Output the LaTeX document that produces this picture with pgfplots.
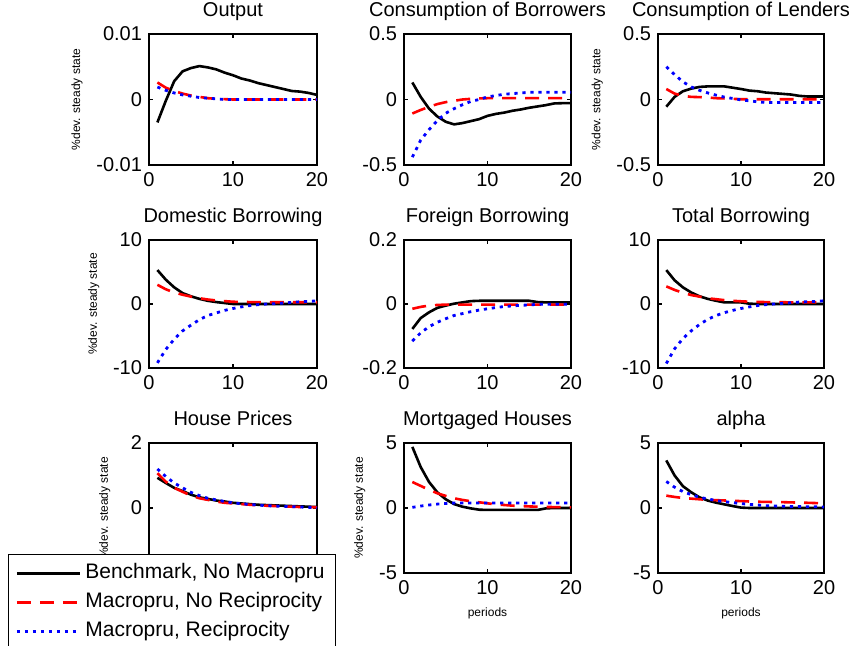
\documentclass[border=0pt]{standalone}
\usepackage{fontspec}
\setmainfont{Liberation Sans}
\usepackage{pgfplots}
\usepackage{pgfplotstable}
\pgfplotsset{compat=1.18}

% columns: period, benchmark, macropru no reciprocity, macropru reciprocity
\pgfplotstableread{
x b r l
1 -0.0035 0.0026 0.0019
2 -0.0002 0.0018 0.0014
3 0.0028 0.0013 0.0010
4 0.0043 0.0009 0.0007
5 0.0048 0.0006 0.0005
6 0.0051 0.0004 0.0003
7 0.0049 0.0002 0.0002
8 0.0046 0.0001 0.0001
9 0.0041 0.00005 0.0
10 0.0037 0 0
11 0.0032 0 0
12 0.0029 0 0
13 0.0025 0 0
14 0.0022 0 0
15 0.0019 0 0
16 0.0016 0 0
17 0.0013 0 0
18 0.0012 0 0
19 0.0010 0 0
20 0.0007 0 0
}\output
\pgfplotstableread{
x b r l
1 0.13 -0.107 -0.44
2 0.02 -0.08 -0.31
3 -0.07 -0.056 -0.23
4 -0.13 -0.035 -0.16
5 -0.17 -0.02 -0.105
6 -0.19 -0.01 -0.07
7 -0.18 0 -0.04
8 -0.165 0.005 -0.015
9 -0.15 0.008 0.0
10 -0.125 0.01 0.02
11 -0.11 0.01 0.03
12 -0.10 0.01 0.04
13 -0.086 0.01 0.045
14 -0.076 0.01 0.05
15 -0.063 0.01 0.055
16 -0.053 0.01 0.055
17 -0.043 0.01 0.055
18 -0.03 0.01 0.055
19 -0.028 0.01 0.055
20 -0.028 0.01 0.055
}\cborr
\pgfplotstableread{
x b r l
1 -0.055 0.08 0.25
2 0.02 0.045 0.19
3 0.063 0.028 0.135
4 0.083 0.02 0.096
5 0.096 0.018 0.07
6 0.1 0.015 0.05
7 0.1 0.01 0.033
8 0.1 0.008 0.018
9 0.09 0.005 0.008
10 0.08 0.002 -0.003
11 0.068 0.002 -0.01
12 0.063 0.002 -0.018
13 0.053 0.002 -0.023
14 0.048 0.002 -0.023
15 0.043 0.002 -0.023
16 0.038 0.002 -0.023
17 0.028 0.002 -0.023
18 0.023 0.002 -0.023
19 0.023 0.002 -0.023
20 0.023 0.002 -0.023
}\clend
\pgfplotstableread{
x b r l
1 5.3 3.0 -9.2
2 3.8 2.3 -7.1
3 2.6 1.8 -5.5
4 1.7 1.45 -4.2
5 1.2 1.15 -3.3
6 0.8 0.9 -2.45
7 0.5 0.7 -1.8
8 0.3 0.55 -1.4
9 0.15 0.45 -1.0
10 0 0.35 -0.7
11 0 0.32 -0.45
12 0 0.3 -0.25
13 0 0.3 -0.1
14 0 0.28 0
15 0 0.28 0.05
16 0 0.28 0.15
17 0 0.28 0.25
18 0 0.28 0.35
19 0 0.28 0.4
20 0 0.28 0.5
}\domb
\pgfplotstableread{
x b r l
1 -0.078 -0.015 -0.116
2 -0.044 -0.009 -0.09
3 -0.026 -0.005 -0.071
4 -0.012 -0.003 -0.057
5 -0.005 -0.002 -0.046
6 0.001 -0.002 -0.036
7 0.005 -0.002 -0.03
8 0.009 -0.002 -0.024
9 0.01 -0.002 -0.019
10 0.01 -0.002 -0.015
11 0.01 -0.002 -0.011
12 0.01 -0.002 -0.008
13 0.01 -0.002 -0.006
14 0.01 -0.002 -0.004
15 0.01 -0.002 -0.003
16 0.006 -0.002 -0.001
17 0.005 -0.002 -0.001
18 0.005 -0.002 -0.001
19 0.005 -0.002 -0.001
20 0.005 -0.002 -0.001
}\forb
\pgfplotstableread{
x b r l
1 5.3 2.75 -9.3
2 3.7 2.2 -7.0
3 2.6 1.75 -5.4
4 1.8 1.4 -4.2
5 1.2 1.15 -3.2
6 0.8 0.9 -2.4
7 0.5 0.75 -1.8
8 0.25 0.6 -1.35
9 0.25 0.5 -1.0
10 0.25 0.42 -0.7
11 0.05 0.36 -0.45
12 0 0.32 -0.25
13 0 0.3 -0.1
14 0 0.28 0
15 0 0.27 0.1
16 0 0.26 0.2
17 0 0.26 0.3
18 0 0.26 0.35
19 0 0.26 0.4
20 0 0.26 0.5
}\totb
\pgfplotstableread{
x b r l
1 0.93 1.07 1.2
2 0.77 0.81 0.97
3 0.62 0.62 0.77
4 0.52 0.5 0.62
5 0.41 0.38 0.48
6 0.33 0.3 0.38
7 0.28 0.25 0.3
8 0.23 0.2 0.25
9 0.2 0.16 0.2
10 0.16 0.14 0.16
11 0.14 0.12 0.13
12 0.12 0.1 0.11
13 0.1 0.08 0.09
14 0.09 0.07 0.07
15 0.08 0.06 0.06
16 0.07 0.05 0.05
17 0.06 0.04 0.04
18 0.05 0.03 0.03
19 0.04 0.03 0.02
20 0.03 0.02 0.01
}\hprice
\pgfplotstableread{
x b r l
1 4.7 2.0 0.05
2 3.15 1.7 0.15
3 2.0 1.4 0.23
4 1.2 1.13 0.3
5 0.67 0.93 0.35
6 0.3 0.75 0.38
7 0.1 0.62 0.38
8 -0.03 0.52 0.38
9 -0.13 0.44 0.38
10 -0.15 0.36 0.38
11 -0.15 0.28 0.38
12 -0.15 0.23 0.38
13 -0.15 0.18 0.38
14 -0.15 0.15 0.38
15 -0.15 0.12 0.38
16 -0.15 0.1 0.38
17 -0.03 0.08 0.38
18 0 0.07 0.38
19 0 0.06 0.38
20 0 0.05 0.38
}\mhouse
\pgfplotstableread{
x b r l
1 3.66 0.95 2.04
2 2.5 0.85 1.6
3 1.68 0.77 1.26
4 1.21 0.72 1.03
5 0.82 0.67 0.82
6 0.57 0.62 0.7
7 0.41 0.6 0.57
8 0.28 0.58 0.49
9 0.15 0.55 0.41
10 0.03 0.53 0.34
11 0 0.5 0.28
12 0 0.48 0.23
13 0 0.47 0.18
14 0 0.46 0.15
15 0 0.45 0.13
16 0 0.43 0.12
17 0 0.42 0.11
18 0 0.4 0.1
19 0 0.38 0.09
20 0 0.36 0.08
}\alphat

\pgfplotsset{
  irf/.style={
    scale only axis, anchor=north west,
    xmin=0, xmax=20, xtick={0,10,20}, xticklabels={0,10,20},
    scaled y ticks=false, scaled x ticks=false,
    tick align=inside, major tick length=2pt,
    axis line style={line width=0.9pt},
    every tick/.style={black, line width=0.6pt},
    tick label style={font=\fontsize{10}{12}\selectfont},
    /pgf/number format/assume math mode=true,
    title style={font=\fontsize{10}{12}\selectfont, text depth=0pt, yshift=-0.8pt},
    ylabel style={font=\fontsize{6}{7}\selectfont},
    xlabel style={font=\fontsize{6}{7}\selectfont},
  },
  bench/.style={black, line width=1.3pt},
  nrec/.style={red, line width=1.3pt, dash pattern=on 7pt off 4.5pt},
  rec/.style={blue, line width=1.4pt, dash pattern=on 1.6pt off 2.4pt},
}

\begin{document}
\begin{tikzpicture}
\useasboundingbox (0,0) rectangle (426pt,-323pt);

% row 1
\begin{axis}[irf, at={(74.5pt,-17pt)}, width=84pt, height=65.5pt,
  title={Output}, ylabel={\%dev. steady state},
  ymin=-0.01, ymax=0.01, ytick={-0.01,0,0.01}, yticklabels={-0.01,0,0.01}]
\addplot[bench] table[x=x,y=b] {\output};
\addplot[nrec] table[x=x,y=r] {\output};
\addplot[rec] table[x=x,y=l] {\output};
\end{axis}
\begin{axis}[irf, at={(202pt,-17pt)}, width=83.5pt, height=65.5pt,
  title={Consumption of Borrowers},
  ymin=-0.5, ymax=0.5, ytick={-0.5,0,0.5}, yticklabels={-0.5,0,0.5}]
\addplot[bench] table[x=x,y=b] {\cborr};
\addplot[nrec] table[x=x,y=r] {\cborr};
\addplot[rec] table[x=x,y=l] {\cborr};
\end{axis}
\begin{axis}[irf, at={(329pt,-17pt)}, width=83pt, height=65.5pt,
  title={Consumption of Lenders}, ylabel={\%dev. steady state},
  ymin=-0.5, ymax=0.5, ytick={-0.5,0,0.5}, yticklabels={-0.5,0,0.5}]
\addplot[bench] table[x=x,y=b] {\clend};
\addplot[nrec] table[x=x,y=r] {\clend};
\addplot[rec] table[x=x,y=l] {\clend};
\end{axis}

% row 2
\begin{axis}[irf, at={(74.5pt,-120pt)}, width=84pt, height=64pt,
  title={Domestic Borrowing}, ylabel={\%dev. steady state},
  ymin=-10, ymax=10, ytick={-10,0,10}, yticklabels={-10,0,10}]
\addplot[bench] table[x=x,y=b] {\domb};
\addplot[nrec] table[x=x,y=r] {\domb};
\addplot[rec] table[x=x,y=l] {\domb};
\end{axis}
\begin{axis}[irf, at={(202pt,-120pt)}, width=83.5pt, height=64pt,
  title={Foreign Borrowing},
  ymin=-0.2, ymax=0.2, ytick={-0.2,0,0.2}, yticklabels={-0.2,0,0.2}]
\addplot[bench] table[x=x,y=b] {\forb};
\addplot[nrec] table[x=x,y=r] {\forb};
\addplot[rec] table[x=x,y=l] {\forb};
\end{axis}
\begin{axis}[irf, at={(329pt,-120pt)}, width=83pt, height=64pt,
  title={Total Borrowing},
  ymin=-10, ymax=10, ytick={-10,0,10}, yticklabels={-10,0,10}]
\addplot[bench] table[x=x,y=b] {\totb};
\addplot[nrec] table[x=x,y=r] {\totb};
\addplot[rec] table[x=x,y=l] {\totb};
\end{axis}

% row 3
\begin{axis}[irf, at={(202pt,-221.5pt)}, width=83.5pt, height=65pt,
  title={Mortgaged Houses}, ylabel={\%dev. steady state}, xlabel={periods},
  ymin=-5, ymax=5, ytick={-5,0,5}, yticklabels={-5,0,5}]
\addplot[bench] table[x=x,y=b] {\mhouse};
\addplot[nrec] table[x=x,y=r] {\mhouse};
\addplot[rec] table[x=x,y=l] {\mhouse};
\end{axis}
\begin{axis}[irf, at={(329pt,-221.5pt)}, width=83pt, height=65pt,
  title={alpha}, xlabel={periods},
  ymin=-5, ymax=5, ytick={-5,0,5}, yticklabels={-5,0,5}]
\addplot[bench] table[x=x,y=b] {\alphat};
\addplot[nrec] table[x=x,y=r] {\alphat};
\addplot[rec] table[x=x,y=l] {\alphat};
\end{axis}
\begin{axis}[irf, at={(74.5pt,-221.5pt)}, width=84pt, height=65pt,
  title={House Prices}, ylabel={\%dev. steady state},
  ymin=-2, ymax=2, ytick={-2,0,2}, yticklabels={-2,0,2},
  legend cell align=left,
  legend image code/.code={\draw[#1] (0pt,0pt) -- (31.5pt,0pt);},
  legend style={at={(-0.839,0.146)}, anchor=north west, draw=black,
    line width=0.5pt, fill=white, font=\fontsize{10.5}{12.6}\selectfont,
    inner xsep=3.5pt, inner ysep=2.5pt, row sep=0.5pt,
    nodes={text height=7.5pt, text depth=2.5pt, inner sep=2pt}}]
\addplot[bench] table[x=x,y=b] {\hprice};
\addplot[nrec] table[x=x,y=r] {\hprice};
\addplot[rec] table[x=x,y=l] {\hprice};
\legend{{Benchmark, No Macropru}, {Macropru, No Reciprocity}, {Macropru, Reciprocity}}
\end{axis}
\end{tikzpicture}
\end{document}
